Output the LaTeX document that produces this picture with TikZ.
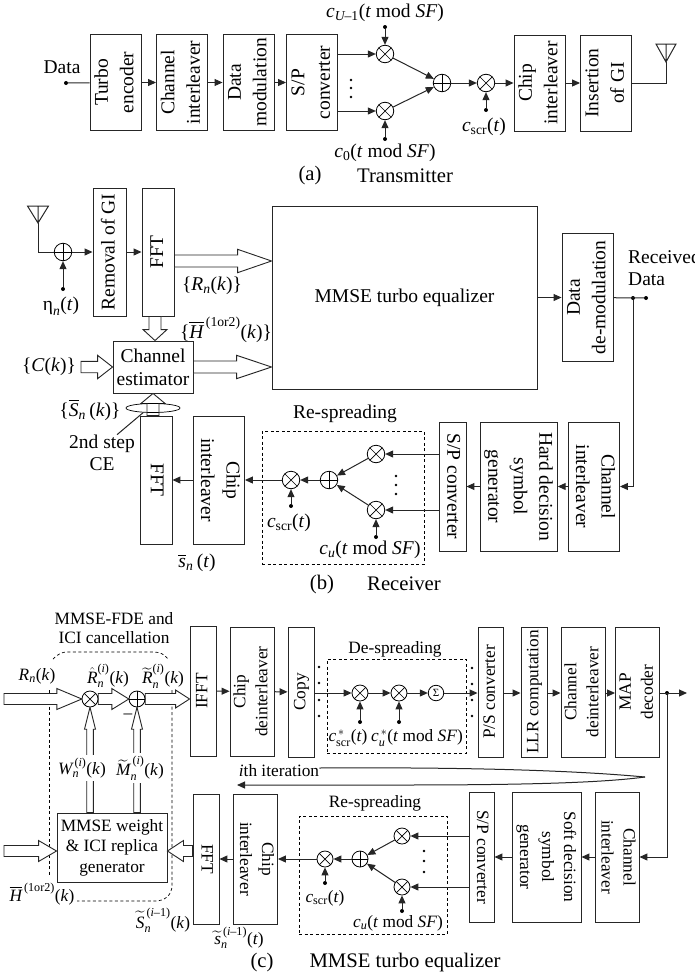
\documentclass[tikz,border=0pt]{standalone}
\usepackage{amsmath}
\usepackage{fontspec}
\setmainfont{Liberation Serif}
\usetikzlibrary{arrows.meta, calc, shapes.geometric}
\newcommand{\basefont}{\fontsize{19.5}{25.5}\selectfont}
\newcommand{\eqfont}{\fontsize{17.3}{22}\selectfont}
\newcommand{\capfont}{\fontsize{20.7}{25}\selectfont}
\newcommand{\mi}[1]{\text{\itshape #1}}
\newcommand{\stk}[1]{\setbox\strutbox\hbox{\vrule height .7\baselineskip depth .3\baselineskip width 0pt}\begin{tabular}{@{}c@{}}#1\end{tabular}}
\newcommand{\rl}[1]{\rotatebox{90}{\stk{#1}}}
\newcommand{\rr}[1]{\rotatebox{-90}{\stk{#1}}}
% hollow arrow: from, to, head length, half shaft, half head
\newcommand{\bigarrow}[5]{%
  \coordinate (hd) at ($(#2)!#3!(#1)$);
  \draw[draw=black!85, line width=0.9pt, fill=white, line join=miter]
    ($(#1)!#4!90:(#2)$) -- ($(hd)!#4!90:(#2)$) -- ($(hd)!#5!90:(#2)$) -- (#2)
    -- ($(hd)!#5!-90:(#2)$) -- ($(hd)!#4!-90:(#2)$) -- ($(#1)!#4!-90:(#2)$) -- cycle;}
\begin{document}
\begin{tikzpicture}[
  x=1pt, y=-1pt,
  every node/.style={font=\basefont, inner sep=0pt},
  blk/.style 2 args={rectangle, draw=black!85, line width=0.9pt, fill=white, minimum width=#1, minimum height=#2, align=center},
  dashbox/.style 2 args={rectangle, draw, line width=0.7pt, dash pattern=on 3pt off 2.5pt, minimum width=#1, minimum height=#2},
  dashln/.style={line width=0.7pt, dash pattern=on 3pt off 2.5pt},
  wire/.style={line width=1pt, black!85},
  sig/.style={wire, -{Triangle[length=8pt,width=7pt]}},
  mult/.style={circle, draw, line width=0.8pt, fill=white, minimum size=17.5pt, path picture={\draw[line width=0.7pt] (path picture bounding box.north west) -- (path picture bounding box.south east) (path picture bounding box.north east) -- (path picture bounding box.south west);}},
  adder/.style={circle, draw, line width=0.8pt, fill=white, minimum size=17.5pt, path picture={\draw[line width=0.7pt] (path picture bounding box.north) -- (path picture bounding box.south) (path picture bounding box.east) -- (path picture bounding box.west);}},
  dot/.style={circle, fill=black, minimum size=4pt},
  smalldot/.style={circle, fill=black, minimum size=2.6pt},
]
\useasboundingbox (0,0) rectangle (695,980);

% (a) Transmitter
\node[blk={49}{96}] (turbo) at (115.5,82.5) {\rl{Turbo\\encoder}};
\node[blk={48}{96}] (chila) at (182,82.5) {\rl{Channel\\interleaver}};
\node[blk={49}{96}] (datamod) at (248.5,82.5) {\rl{Data\\modulation}};
\node[blk={48}{96}] (spa) at (312,82.5) {\rl{S/P\\converter}};
\node[blk={49}{96}] (chipa) at (539.5,83) {\rl{Chip\\interleaver}};
\node[blk={50}{96}] (insgi) at (606,83) {\rl{Insertion\\of GI}};
\node[mult] (mua) at (385,54) {};
\node[mult] (mub) at (385,111) {};
\node[adder] (adda) at (442,83) {};
\node[mult] (mxa) at (486,83) {};
\node[dot] (dataa) at (66,83) {};
\node[dot] (dcua) at (385,27) {};
\node[dot] (dcub) at (385,139) {};
\node[dot] (dscra) at (486,110) {};
\coordinate (anta) at (666,62);
\node (datal) at (62,67) {Data};
\node (cul) at (385,13) {$\mi{c}_{\mi{U}\text{–1}}\text{(\textit{t} mod \textit{SF})}$};
\node (c0l) at (385,153) {$\mi{c}_{\text{0}}\text{(\textit{t} mod \textit{SF})}$};
\node (cscra) at (484,127) {$\mi{c}_{\text{scr}}\text{(\textit{t})}$};
\node[font=\capfont] (capa) at (310,176) {(a)};
\node[font=\capfont] (txcap) at (405,176) {Transmitter};
\foreach \y in {80,88,97} \node[smalldot] (da\y) at (351,\y) {};

\draw[wire] (dataa) -- (turbo);
\draw[sig] (turbo) -- (chila);
\draw[sig] (chila) -- (datamod);
\draw[sig] (datamod) -- (spa);
\draw[sig] (spa.east |- mua) -- (mua);
\draw[sig] (spa.east |- mub) -- (mub);
\draw[sig] (dcua) -- (mua);
\draw[sig] (dcub) -- (mub);
\draw[sig] (mua) -- (adda);
\draw[sig] (mub) -- (adda);
\draw[sig] (adda) -- (mxa);
\draw[sig] (dscra) -- (mxa);
\draw[sig] (mxa) -- (chipa);
\draw[sig] (chipa) -- (insgi);
\draw[wire] (insgi) -| (anta);
\draw[wire] (anta) -- ++(-10,-18) -- ++(20,0) -- cycle (anta) -- ++(0,-18);

% (b) Receiver
\node[blk={33}{128}] (removal) at (109.5,252) {\rl{Removal of GI}};
\node[blk={32}{128}] (fftb) at (158,252) {\rl{FFT}};
\node[blk={265}{183}] (mmse) at (404.5,297.5) {MMSE turbo equalizer};
\node[blk={49}{128}] (demod) at (587.5,297.5) {\rl{Data\\de-modulation}};
\node[blk={80}{52}] (chest) at (153,367) {Channel\\[-2.5pt]estimator};
\node[blk={32}{128}] (fftr) at (156,480) {\rr{FFT}};
\node[blk={48}{128}] (chipb) at (219,480) {\rr{Chip\\interleaver}};
\node[dashbox={162}{133}] (respb) at (343,497.5) {};
\node[blk={27}{129}] (spb) at (452.5,486.5) {\rr{S/P converter}};
\node[blk={74}{129}] (hard) at (519,486.5) {\rr{Hard decision\\symbol\\generator}};
\node[blk={48}{129}] (chilb) at (594,486.5) {\rr{Channel\\interleaver}};
\node[adder] (addn) at (63,252) {};
\node[dot] (deta) at (63,289) {};
\coordinate (antb) at (38,223);
\node[mult] (mxb) at (291,480) {};
\node[adder] (addb) at (329,480) {};
\node[mult] (mub1) at (376,454) {};
\node[mult] (mub2) at (376,510) {};
\node[dot] (dscrb) at (291,506) {};
\node[dot] (dcb) at (376,537) {};
\node[dot] (jb) at (633,298) {};
\node[dot] (rxend) at (646,298) {};
\foreach \y in {476,485,494} \node[smalldot] (db\y) at (396,\y) {};
\node (etal) at (61,306) {$\text{η}_{\mi{n}}\text{(\textit{t})}$};
\node (rnl) at (212,286) {$\text{\{}\mi{R}_{\mi{n}}\text{(\textit{k})\}}$};
\node (hbl) at (226,330) {$\text{\{}\overline{\mi{H}}^{\,\text{(1or2)}}\text{(\textit{k})\}}$};
\node (ck) at (49,367) {\{\textit{C}(\textit{k})\}};
\node (sbl) at (90,410) {$\text{\{}\overline{\mi{S}}_{\mi{n}}\,\text{(\textit{k})\}}$};
\node[align=center] (step2) at (102,453) {2nd step\\[-3pt]CE};
\node (sntl) at (197,563) {$\overline{\mi{s}}_{\mi{n}}\,\text{(\textit{t})}$};
\node (respl) at (345,414) {Re-spreading};
\node (cscrb) at (289,523) {$\mi{c}_{\text{scr}}\text{(\textit{t})}$};
\node (cub) at (370,550) {$\mi{c}_{\mi{u}}\text{(\textit{t} mod \textit{SF})}$};
\node[align=left, anchor=west] (rxl) at (628,268) {Received\\[-3pt]Data};
\node[font=\capfont] (capb) at (322,585) {(b)};
\node[font=\capfont] (rxcap) at (404,584) {Receiver};

\draw[wire] (antb) -- ++(-10.5,-17) -- ++(21,0) -- cycle (antb) -- ++(0,-17);
\draw[wire] (antb) |- (addn);
\draw[sig] (addn) -- (removal);
\draw[sig] (deta) -- (addn);
\draw[sig] (removal) -- (fftb);
\bigarrow{fftb.east |- 0,261}{mmse.west |- 0,261}{34pt}{6pt}{11.7pt}
\bigarrow{[xshift=2pt]chest.north |- fftb.south}{[xshift=2pt]chest.north}{11pt}{6pt}{12pt}
\bigarrow{81,367}{chest.west}{15pt}{5.7pt}{11.7pt}
\bigarrow{chest.east}{mmse.west |- chest.east}{35pt}{6pt}{11.7pt}
\bigarrow{chest.south |- fftr.north}{chest.south}{10pt}{6pt}{12pt}
\node[ellipse, draw, line width=0.7pt, minimum width=54pt, minimum height=9pt] (cering) at (153,408) {};
\draw[wire] (cering.205) -- ([xshift=15pt]step2.north);
\draw[sig] (mmse) -- (demod);
\draw[wire] (demod) -- (rxend);
\draw[sig] (jb) |- (chilb);
\draw[sig] (chilb) -- (hard);
\draw[sig] (hard) -- (spb);
\draw[sig] (spb.west |- mub1) -- (mub1);
\draw[sig] (spb.west |- mub2) -- (mub2);
\draw[sig] (mub1) -- (addb);
\draw[sig] (mub2) -- (addb);
\draw[sig] (dcb) -- (mub2);
\draw[sig] (addb) -- (mxb);
\draw[sig] (dscrb) -- (mxb);
\draw[sig] (mxb) -- (chipb);
\draw[sig] (chipb) -- (fftr);

% (c) MMSE turbo equalizer
\begin{scope}[every node/.style={font=\eqfont, inner sep=0pt}]
\node[blk={26}{130}] (ifft) at (203,691) {\rl{IFFT}};
\node[blk={38}{129}] (chipd) at (252,691.5) {\rl{Chip\\deinterleaver}};
\node[blk={26}{130}] (copy) at (301,692) {\rl{Copy}};
\node[dashbox={139}{94}] (desp) at (396.5,706) {};
\node[blk={25}{130}] (ps) at (490.5,692) {\rl{P/S converter}};
\node[blk={26}{130}] (llr) at (534,692) {\rl{LLR computation}};
\node[blk={38}{130}] (chid) at (583,692) {\rl{Channel\\deinterleaver}};
\node[blk={37}{130}] (mapd) at (637.5,692) {\rl{MAP\\decoder}};
\node[blk={110}{69}] (gen) at (112,847.5) {MMSE weight\\[-1.5pt]\& ICI replica\\[-1.5pt]generator};
\node[blk={26}{130}] (fftc) at (206,859) {\rr{FFT}};
\node[blk={37}{130}] (chipc) at (255.5,859) {\rr{Chip\\interleaver}};
\node[dashbox={148}{118}] (respc) at (373,875) {};
\node[blk={25}{130}] (spc) at (481.5,857) {\rr{S/P converter}};
\node[blk={69}{130}] (soft) at (546.5,857) {\rr{Soft decision\\symbol\\generator}};
\node[blk={38}{130}] (chilc) at (617,857) {\rr{Channel\\interleaver}};
\node[mult, minimum size=16pt] (mxd1) at (360,693) {};
\node[mult, minimum size=16pt] (mxd2) at (399,693) {};
\node[circle, draw, line width=0.8pt, minimum size=15.5pt, font=\fontsize{11}{11}\selectfont] (sigma) at (436,693) {Σ};
\node[mult, minimum size=16pt] (mxc) at (325,859) {};
\node[adder, minimum size=16pt] (addc2) at (360,859) {};
\node[mult, minimum size=16pt] (muc1) at (402,836) {};
\node[mult, minimum size=16pt] (muc2) at (402,887) {};
\node[dot] (dd1) at (360,722) {};
\node[dot] (dd2) at (399,722) {};
\node[dot] (dscrc) at (325,883) {};
\node[dot] (dcc) at (402,911) {};
\node[dot] (jc) at (667,693) {};
\coordinate (mapout) at (687,693);
\coordinate (itip) at (645,777);
\foreach \y in {667,683,700,716} \node[smalldot] (dl\y) at (319,\y) {};
\foreach \y in {668,684,700,716} \node[smalldot] (dr\y) at (472,\y) {};
\foreach \y in {851,861,872} \node[smalldot] (dc\y) at (424,\y) {};
\node[align=center] (fdel) at (114,628.5) {MMSE-FDE and\\[-3pt]ICI cancellation};
\node (rnc) at (37,676) {$\mi{R}_{\mi{n}}\text{(\textit{k})}$};
\node (rhat) at (108,676) {$\hat{\mi{R}}_{\mi{n}}^{\text{(\textit{i})}}\text{(\textit{k})}$};
\node (rtil) at (163,676) {$\widetilde{\mi{R}}_{\mi{n}}^{\text{(\textit{i})}}\text{(\textit{k})}$};
\node (desl) at (395,649) {De-spreading};
\node (cscrd) at (348,738) {$\mi{c}^{\,*}_{\text{scr}}\text{(\textit{t})}$};
\node (cud) at (417,738) {$\mi{c}^{\,*}_{\mi{u}}\text{(\textit{t} mod \textit{SF})}$};
\node (iter) at (279,771) {\textit{i}th iteration};
\node (respcl) at (375,803) {Re-spreading};
\node (cscrc) at (325,898) {$\mi{c}_{\text{scr}}\text{(\textit{t})}$};
\node (cuc) at (398,923) {$\mi{c}_{\mi{u}}\text{(\textit{t} mod \textit{SF})}$};
\node (hbc) at (42,894) {$\overline{\mi{H}}^{\,\text{(1or2)}}\text{(\textit{k})}$};
\node (stil) at (163,920) {$\widetilde{\mi{S}}_{\mi{n}}^{\,\text{(\textit{i}–1)}}\text{(\textit{k})}$};
\node (sntil) at (239,938) {$\widetilde{\mi{s}}_{\mi{n}}^{\,\text{(\textit{i}–1)}}\text{(\textit{t})}$};
\node[font=\capfont] (capc) at (262,963) {(c)};
\node[font=\capfont] (eqcap) at (405,963) {MMSE turbo equalizer};

% equalizer outline
\draw[dashln] (49,690) -- (49,875);
\draw[dashln] (53,659) .. controls (58,654) and (62,652) .. (67,652) -- (153,652) .. controls (160,652) and (164,654) .. (168,659);
\draw[dashln] (172,690) -- (172,885) .. controls (172,896) and (164,901) .. (155,901) -- (77,901);

\node[circle, minimum size=16pt] (muc) at (90,699) {};
\node[circle, minimum size=16pt] (addc) at (137,699) {};
\bigarrow{4,699}{muc.west}{25pt}{5.5pt}{10.5pt}
\bigarrow{muc.east}{addc.west}{17pt}{5.5pt}{10.5pt}
\bigarrow{addc.east}{ifft.west |- addc}{14pt}{5.5pt}{9pt}
\bigarrow{muc |- gen.north}{muc.south}{22pt}{3.3pt}{5.5pt}
\bigarrow{addc |- gen.north}{addc.south}{22pt}{3.3pt}{5.5pt}
\node[mult, minimum size=16pt] (mucx) at (muc) {};
\node[adder, minimum size=16pt] (addcx) at (addc) {};
\node (minus) at (128,716) {–};
\node[fill=white, inner ysep=3pt] (wl) at (82,768) {$\mi{W}_{\mi{n}}^{\,\text{(\textit{i})}}\text{(\textit{k})}$};
\node[fill=white, inner ysep=3pt] (ml) at (140,768) {$\widetilde{\mi{M}}_{\mi{n}}^{\,\text{(\textit{i})}}\text{(\textit{k})}$};
\bigarrow{4,851}{gen.west |- 0,851}{18pt}{5.5pt}{10.5pt}
\bigarrow{fftc.west |- 0,851}{gen.east |- 0,851}{16pt}{5.5pt}{10.5pt}
\draw[sig] (ifft) -- (chipd);
\draw[sig] (chipd) -- (copy);
\draw[sig] (copy.east |- mxd1) -- (mxd1);
\draw[sig] (mxd1) -- (mxd2);
\draw[sig] (mxd2) -- (sigma);
\draw[sig] (sigma) -- (ps.west |- sigma);
\draw[sig] (dd1) -- (mxd1);
\draw[sig] (dd2) -- (mxd2);
\draw[sig] (ps.east |- sigma) -- (llr.west |- sigma);
\draw[sig] (llr.east |- sigma) -- (chid.west |- sigma);
\draw[sig] (chid.east |- sigma) -- (mapd.west |- sigma);
\draw[sig] (mapd.east |- sigma) -- (mapout);
\draw[sig] (jc) |- (chilc);
\draw[wire] ([yshift=3pt]iter.east) .. controls (480,767) and (580,771) .. (itip);
\draw[sig] (itip) .. controls (600,783) and (520,785) .. (400,785) -- (237,785);
\draw[sig] (chilc) -- (soft);
\draw[sig] (soft) -- (spc);
\draw[sig] (spc.west |- muc1) -- (muc1);
\draw[sig] (spc.west |- muc2) -- (muc2);
\draw[sig] (muc1) -- (addc2);
\draw[sig] (muc2) -- (addc2);
\draw[sig] (dcc) -- (muc2);
\draw[sig] (addc2) -- (mxc);
\draw[sig] (dscrc) -- (mxc);
\draw[sig] (mxc) -- (chipc);
\draw[sig] (chipc) -- (fftc);
\end{scope}
\end{tikzpicture}
\end{document}
